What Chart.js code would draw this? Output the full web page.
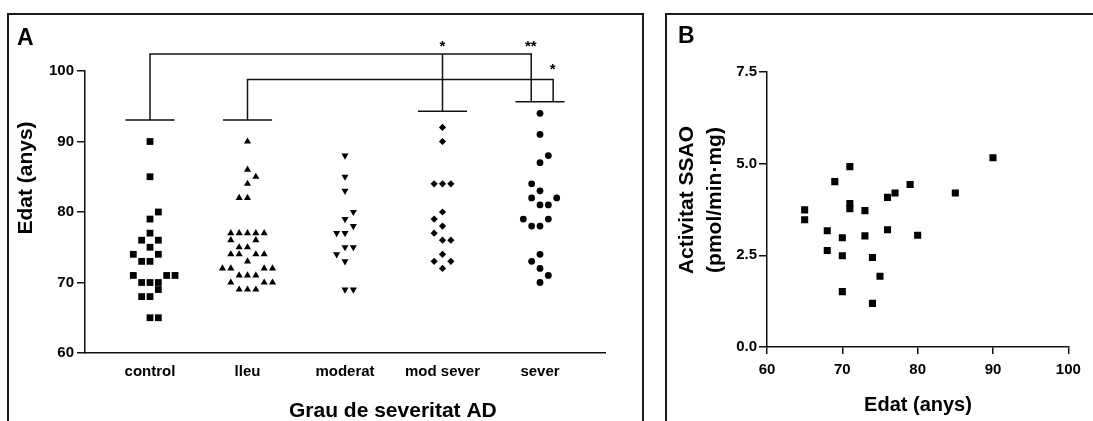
<!DOCTYPE html>
<html><head><meta charset="utf-8">
<script src="https://cdn.jsdelivr.net/npm/chart.js@4/dist/chart.umd.min.js"></script>
<style>
html,body{margin:0;padding:0;background:#fff;width:1093px;height:421px;overflow:hidden;position:relative}
.frame{position:absolute;border:2px solid #1a1a1a;box-sizing:content-box}
#frameA{left:7px;top:13px;width:633px;height:430px}
#frameB{left:665px;top:13px;width:440px;height:430px}
canvas{position:absolute;top:0}
#cA{left:0}
#cB{left:643px}
</style></head><body>
<div class="frame" id="frameA"></div>
<div class="frame" id="frameB"></div>
<canvas id="cA" width="643" height="421"></canvas>
<canvas id="cB" width="450" height="421"></canvas>
<script>
// ---------- DATA: panel A ----------
const categories = ['control', 'lleu', 'moderat', 'mod sever', 'sever'];
const yTicksA = [60, 70, 80, 90, 100];

const controlAges  = [90,85,80,79,77,76,76,75,74,74,73,73,71,71,71,70,70,70,69,68,68,65,65];
const controlSlots = [0,0,1,0,0,-1,1,0,-2,1,-1,0,-2,2,3,-1,0,1,1,-1,0,0,1];

const lleuAges  = [90,86,85,84,82,82,77,77,77,77,77,76,76,75,75,74,74,74,74,73,72,72,72,72,71,71,71,70,70,70,69,69,69];
const lleuSlots = [0,0,1,0,-1,0,-2,-1,0,1,2,-2,1,-1,0,-2,-1,1,2,0,-3,-2,2,3,-1,0,1,-2,2,3,-1,0,1];

const moderatAges  = [88,85,83,80,79,78,77,77,75,75,74,73,69,69];
const moderatSlots = [0,0,0,1,0,1,-1,0,0,1,-1,0,0,1];

const modSeverAges  = [92,90,84,84,84,80,79,78,77,76,76,74,73,73,72];
const modSeverSlots = [0,0,-1,0,1,0,-1,0,-1,0,1,0,-1,1,0];

const severAges  = [94,91,88,87,84,83,82,82,81,81,79,79,78,78,74,73,72,71,70];
const severSlots = [0,0,1,0,-1,0,-1,2,0,1,-2,1,-1,0,0,-1,0,1,0];

// significance annotations (data units)
const capGroups = [1, 2, 4, 5];
const capLevels = [93.05, 93.05, 94.3, 95.65];
const bracketFrom = [1, 2];
const bracketTo = [4.91, 5.135];
const bracketTop = [102.4, 98.8];
const bracketFromBase = [93.05, 93.05];
const bracketToBase = [95.65, 95.65];
const dropGroup = 4, dropTop = 102.4, dropBase = 94.3;
const starTexts = ['*', '**', '*'];
const starX = [4, 4.905, 5.13];
const starY = [103.9, 103.9, 100.65];

// ---------- DATA: panel B ----------
const bAges     = [65,65,68,68,69,70,70,70,71,71,71,73,73,74,74,75,76,76,77,79,80,85,90];
const bActivity = [3.74,3.47,3.17,2.63,4.51,2.98,2.49,1.51,4.92,3.91,3.77,3.72,3.03,2.44,1.19,1.93,4.08,3.20,4.20,4.43,3.05,4.20,5.16];
const xTicksB = [60, 70, 80, 90, 100];
const yTicksB = [0, 2.5, 5, 7.5];

// ---------- styling ----------
const FONT = '"Liberation Sans", Arial, Helvetica, sans-serif';
const SLOT = 0.0856;
const CAP_HALF = 0.252;
const black = '#000';

function groupPoints(g, ages, slots) {
  return ages.map((a, i) => ({ x: g + slots[i] * SLOT, y: a }));
}
function markerDs(points, style, radius, rotation) {
  return {
    data: points, pointStyle: style, pointRadius: radius, pointHoverRadius: radius,
    pointRotation: rotation || 0, pointBackgroundColor: black, pointBorderColor: black,
    pointBorderWidth: 0, showLine: false
  };
}
function lineDs(points) {
  return { data: points, showLine: true, pointRadius: 0, pointHoverRadius: 0,
    borderColor: '#111', borderWidth: 1.5, clip: false, fill: false, tension: 0 };
}

const textPlugin = {
  id: 'texts',
  afterDraw(chart, args, opts) {
    const ctx = chart.ctx;
    ctx.save();
    ctx.fillStyle = black;
    (opts.items || []).forEach(t => {
      ctx.save();
      ctx.font = `bold ${t.size}px ${FONT}`;
      ctx.translate(t.x, t.y);
      if (t.rot) ctx.rotate(t.rot);
      ctx.textAlign = t.align || 'left';
      ctx.textBaseline = t.baseline || 'alphabetic';
      ctx.fillText(t.text, 0, 0);
      ctx.restore();
    });
    ctx.restore();
  }
};

const starPlugin = {
  id: 'stars',
  afterDatasetsDraw(chart) {
    const ctx = chart.ctx, xs = chart.scales.x, ys = chart.scales.y;
    const size = 15;
    ctx.save();
    ctx.fillStyle = black;
    ctx.font = `bold ${size}px ${FONT}`;
    ctx.textAlign = 'center';
    ctx.textBaseline = 'alphabetic';
    starTexts.forEach((s, i) => {
      ctx.fillText(s, xs.getPixelForValue(starX[i]), ys.getPixelForValue(starY[i]) + 0.53 * size);
    });
    ctx.restore();
  }
};

// ---------- Panel A ----------
const dsA = [
  markerDs(groupPoints(1, controlAges, controlSlots), 'rect', 4.8),
  markerDs(groupPoints(2, lleuAges, lleuSlots), 'triangle', 4.1),
  markerDs(groupPoints(3, moderatAges, moderatSlots), 'triangle', 4.1, 180),
  markerDs(groupPoints(4, modSeverAges, modSeverSlots), 'rectRot', 3.6),
  markerDs(groupPoints(5, severAges, severSlots), 'circle', 3.4)
];
capGroups.forEach((g, i) => dsA.push(lineDs([{x: g - CAP_HALF, y: capLevels[i]}, {x: g + CAP_HALF, y: capLevels[i]}])));
bracketFrom.forEach((f, i) => dsA.push(lineDs([
  {x: f, y: bracketFromBase[i]}, {x: f, y: bracketTop[i]},
  {x: bracketTo[i], y: bracketTop[i]}, {x: bracketTo[i], y: bracketToBase[i]}
])));
dsA.push(lineDs([{x: dropGroup, y: dropTop}, {x: dropGroup, y: dropBase}]));

const tickFont = { family: FONT, size: 15, weight: 'bold' };

new Chart(document.getElementById('cA'), {
  type: 'scatter',
  data: { datasets: dsA },
  options: {
    responsive: false, maintainAspectRatio: false, animation: false,
    layout: { padding: { top: 71, right: 38, left: 0, bottom: 0 } },
    plugins: {
      legend: { display: false }, tooltip: { enabled: false },
      texts: { items: [
        { text: 'A', x: 17, y: 45, size: 23 },
        { text: 'Edat (anys)', x: 26, y: 178, size: 21, rot: -Math.PI / 2, align: 'center', baseline: 'middle' },
        { text: 'Grau de severitat AD', x: 289, y: 417, size: 21 }
      ] }
    },
    scales: {
      x: {
        type: 'linear', min: 1 / 3, max: 17 / 3,
        afterBuildTicks: s => { s.ticks = categories.map((c, i) => ({ value: i + 1 })); },
        afterFit: s => { s.height = 68; },
        ticks: { callback: v => categories[Math.round(v) - 1], font: tickFont, color: black, padding: 10, autoSkip: false, maxRotation: 0 },
        grid: { display: false, drawTicks: false },
        border: { display: true, color: '#111', width: 1.5 }
      },
      y: {
        type: 'linear', min: 60, max: 100,
        afterBuildTicks: s => { s.ticks = yTicksA.map(v => ({ value: v })); },
        afterFit: s => { s.width = 85; },
        ticks: { font: tickFont, color: black, padding: 3 },
        grid: { drawOnChartArea: false, drawTicks: true, tickLength: 8, color: '#111', lineWidth: 1.5 },
        border: { display: true, color: '#111', width: 1.5 }
      }
    }
  },
  plugins: [textPlugin, starPlugin]
});

// ---------- Panel B ----------
new Chart(document.getElementById('cB'), {
  type: 'scatter',
  data: { datasets: [ markerDs(bAges.map((a, i) => ({ x: a, y: bActivity[i] })), 'rect', 5) ] },
  options: {
    responsive: false, maintainAspectRatio: false, animation: false,
    layout: { padding: { top: 72, right: 24.7, left: 0, bottom: 0 } },
    plugins: {
      legend: { display: false }, tooltip: { enabled: false },
      texts: { items: [
        { text: 'B', x: 35, y: 43, size: 23 },
        { text: 'Activitat SSAO', x: 44, y: 200, size: 21, rot: -Math.PI / 2, align: 'center', baseline: 'middle' },
        { text: '(pmol/min·mg)', x: 72, y: 200, size: 21, rot: -Math.PI / 2, align: 'center', baseline: 'middle' },
        { text: 'Edat (anys)', x: 275, y: 411, size: 20, align: 'center' }
      ] }
    },
    scales: {
      x: {
        type: 'linear', min: 60, max: 100,
        afterBuildTicks: s => { s.ticks = xTicksB.map(v => ({ value: v })); },
        afterFit: s => { s.height = 74; },
        ticks: { font: tickFont, color: black, padding: 7, autoSkip: false, maxRotation: 0 },
        grid: { drawOnChartArea: false, drawTicks: true, tickLength: 7, color: '#111', lineWidth: 1.5 },
        border: { display: true, color: '#111', width: 1.5 }
      },
      y: {
        type: 'linear', min: 0, max: 7.5,
        afterBuildTicks: s => { s.ticks = yTicksB.map(v => ({ value: v })); },
        afterFit: s => { s.width = 124; },
        ticks: { callback: v => Number(v).toFixed(1), font: tickFont, color: black, padding: 2 },
        grid: { drawOnChartArea: false, drawTicks: true, tickLength: 8, color: '#111', lineWidth: 1.5 },
        border: { display: true, color: '#111', width: 1.5 }
      }
    }
  },
  plugins: [textPlugin]
});
</script>
</body></html>
